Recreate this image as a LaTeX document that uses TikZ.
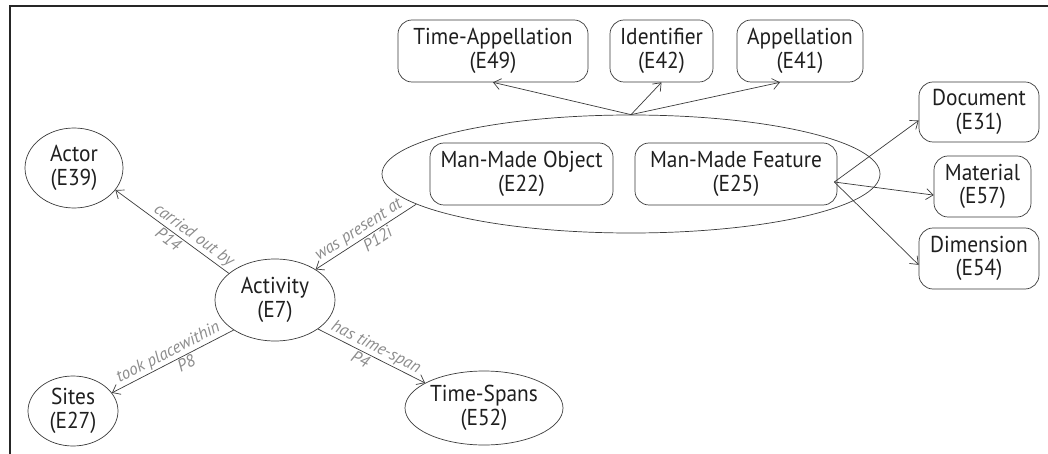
\documentclass[tikz,border=0pt]{standalone}
\usepackage{fontspec}
\setmainfont[FakeStretch=0.93]{PT Sans}
\newfontfamily\lblfont{PT Sans}
\usetikzlibrary{arrows.meta,calc,shapes.geometric}
\definecolor{lblgray}{HTML}{8C8C8C}
\definecolor{linegray}{HTML}{3A3A3A}
\begin{document}
\begin{tikzpicture}[x=1pt,y=-1pt,
  every node/.style={font=\fontsize{23}{23.5}\selectfont, text=black!88},
  ell/.style={draw=linegray, line width=0.7pt, ellipse, inner sep=0pt, align=center},
  rbox/.style={draw=linegray, line width=0.7pt, rounded corners=14pt, inner sep=0pt, align=center},
  conn/.style={draw=linegray, line width=0.7pt, -{Straight Barb[length=7pt,width=11pt]}},
  lbl/.style={font=\lblfont\itshape\fontsize{17}{18}\selectfont, text=lblgray, sloped, inner sep=1.5pt}
]
\useasboundingbox (0,0) rectangle (1048,454);
\draw[line width=2pt, black!85] (10,454) -- (10,6.5) -- (1048,6.5);

% ellipses
\node[ell, minimum width=98pt, minimum height=80pt] (actor) at (74,168) {Actor\\(E39)};
\node[ell, minimum width=120pt, minimum height=82pt] (activity) at (275,300) {Activity\\(E7)};
\node[ell, minimum width=90pt, minimum height=70pt] (sites) at (73,411) {Sites\\(E27)};
\node[ell, minimum width=158pt, minimum height=74pt] (tspan) at (484,408) {Time-Spans\\(E52)};
\node[ell, minimum width=498pt, minimum height=118pt] (big) at (631,174) {};

% rounded boxes
\node[rbox, minimum width=183pt, minimum height=62pt] (mmo) at (521.5,174) {Man-Made Object\\(E22)};
\node[rbox, minimum width=202pt, minimum height=62pt] (mmf) at (736,174) {Man-Made Feature\\(E25)};
\node[rbox, minimum width=190pt, minimum height=62pt] (tapp) at (493,51) {Time-Appellation\\(E49)};
\node[rbox, minimum width=103pt, minimum height=62pt] (ident) at (661.5,51) {Identifier\\(E42)};
\node[rbox, minimum width=126pt, minimum height=62pt] (app) at (800,51) {Appellation\\(E41)};
\node[rbox, minimum width=120pt, minimum height=60pt] (doc) at (979,112) {Document\\(E31)};
\node[rbox, minimum width=97pt, minimum height=61pt] (mat) at (982.5,186.5) {Material\\(E57)};
\node[rbox, minimum width=120pt, minimum height=61pt] (dim) at (979,258.5) {Dimension\\(E54)};

% connectors from Activity
\draw[conn] (activity.150) -- node[lbl, above, pos=0.36]{carried out by} node[lbl, below, pos=0.49]{P14} (actor.-28);
\draw[conn] (activity.216) -- node[lbl, above, pos=0.5]{took placewithin} node[lbl, below, pos=0.42]{P8} (sites.25);
\draw[conn] (activity.-34) -- node[lbl, above, pos=0.5]{has time-span} node[lbl, below, pos=0.43]{P4} (tspan.157);
\draw[conn] (big.188.7) -- node[lbl, above, pos=0.52]{was present at} node[lbl, below, pos=0.43]{P12i} (activity.37);

% top connectors
\draw[conn] (big.north) -- (tapp.south);
\draw[conn] (big.north) -- (ident.south);
\draw[conn] (big.north) -- ($(app.south)+(-20,0)$);

% feature connectors
\coordinate (fs) at ($(mmf.east)+(-3,8)$);
\draw[conn] (fs) -- (doc.188);
\draw[conn] (fs) -- (mat.190);
\draw[conn] (fs) -- (dim.186);
\end{tikzpicture}
\end{document}
